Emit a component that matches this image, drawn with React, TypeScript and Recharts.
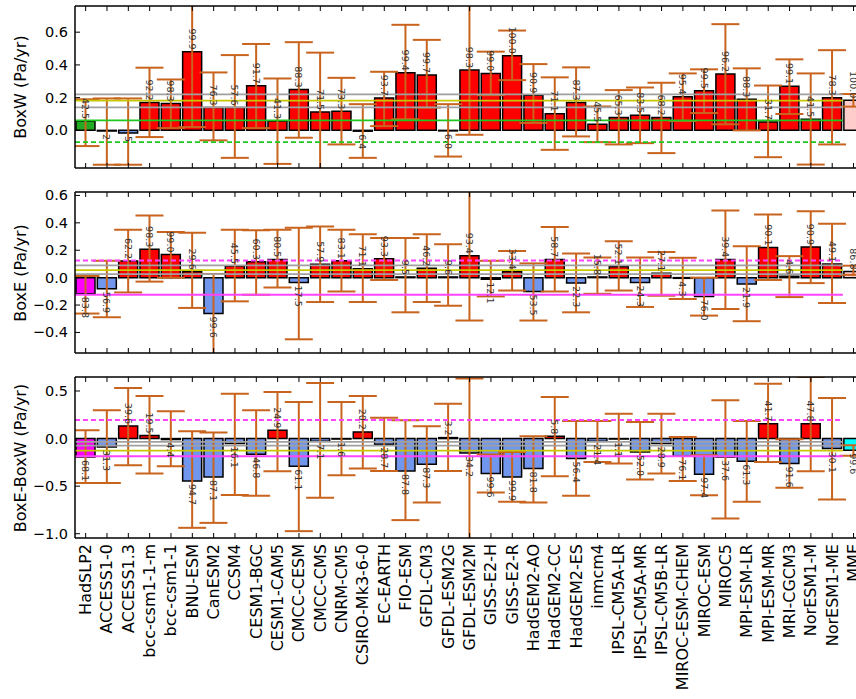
import React from "react";
import { ComposedChart, Bar, Cell, XAxis, YAxis, ErrorBar, ReferenceLine, LabelList } from "recharts";

const models = [
  "HadSLP2", "ACCESS1-0", "ACCESS1.3", "bcc-csm1-1-m", "bcc-csm1-1", "BNU-ESM", "CanESM2", "CCSM4",
  "CESM1-BGC", "CESM1-CAM5", "CMCC-CESM", "CMCC-CMS", "CNRM-CM5", "CSIRO-Mk3-6-0", "EC-EARTH", "FIO-ESM",
  "GFDL-CM3", "GFDL-ESM2G", "GFDL-ESM2M", "GISS-E2-H", "GISS-E2-R", "HadGEM2-AO", "HadGEM2-CC", "HadGEM2-ES",
  "inmcm4", "IPSL-CM5A-LR", "IPSL-CM5A-MR", "IPSL-CM5B-LR", "MIROC-ESM-CHEM", "MIROC-ESM", "MIROC5",
  "MPI-ESM-LR", "MPI-ESM-MR", "MRI-CGCM3", "NorESM1-M", "NorESM1-ME", "MME",
]

// BoxW trends, whisker ends and bar labels
const boxW = [
  0.057, -0.004, -0.016, 0.17, 0.164, 0.481, 0.139, 0.139, 0.272, 0.057, 0.25, 0.112, 0.117, -0.005, 0.198, 0.352,
  0.338, -0.003, 0.369, 0.348, 0.456, 0.215, 0.102, 0.17, 0.037, 0.078, 0.092, 0.078, 0.205, 0.242, 0.344,
  0.19, 0.051, 0.27, 0.068, 0.2, 0.184,
]
const boxWLow = [
  -0.096, -0.21, -0.21, -0.041, 0.014, 0.02, -0.061, -0.168, 0.014, -0.205, -0.045, -0.26, -0.086, -0.168, 0.026, 0.068,
  0.139, -0.16, -0.027, 0.215, 0.307, 0.045, -0.119, -0.037, -0.072, -0.086, -0.078, -0.139, 0.057, 0.106, 0.037,
  0.0, -0.164, 0.1, -0.209, -0.086, 0.145,
]
const boxWHigh = [
  0.19, 0.195, 0.195, 0.383, 0.311, 0.95, 0.354, 0.46, 0.528, 0.317, 0.539, 0.475, 0.321, 0.16, 0.358, 0.645,
  0.553, 0.16, 0.82, 0.481, 0.61, 0.405, 0.324, 0.385, 0.146, 0.246, 0.262, 0.291, 0.348, 0.373, 0.649,
  0.379, 0.274, 0.434, 0.348, 0.49, 0.222,
]
const boxWLabels = [
  "42.5", "2", "5", "92.2", "98.3", "99.9", "76.3", "57.6", "91.7", "41.3", "88.3", "71.5", "73.3", "6.4", "93.7", "99.4",
  "99.7", "6.0", "98.3", "99.0", "100.0", "90.9", "71.1", "87.3", "45.5", "65.3", "83.5", "68.2", "95.4", "99.5", "96.2",
  "88.3", "31.7", "99.1", "41.5", "78.3", "100.0",
]

// BoxE
const boxE = [
  -0.118, -0.082, 0.121, 0.207, 0.169, 0.043, -0.262, 0.085, 0.116, 0.133, -0.036, 0.097, 0.123, 0.065, 0.137, 0.005,
  0.068, 0.005, 0.159, -0.012, 0.043, -0.101, 0.133, -0.04, 0.005, 0.08, -0.036, 0.032, -0.005, -0.137, 0.133,
  -0.046, 0.22, 0.01, 0.224, 0.099, 0.045,
]
const boxELow = [
  -0.262, -0.289, -0.108, -0.029, 0.0, -0.221, -0.6, -0.173, -0.125, -0.072, -0.45, -0.178, -0.101, -0.178, -0.017, -0.253,
  -0.178, -0.205, -0.313, -0.137, -0.094, -0.313, -0.101, -0.253, -0.118, -0.094, -0.214, -0.132, -0.156, -0.277, -0.229,
  -0.318, -0.017, -0.142, -0.04, -0.185, 0.02,
]
const boxEHigh = [
  0.012, 0.123, 0.35, 0.453, 0.333, 0.328, 0.027, 0.35, 0.345, 0.35, 0.364, 0.374, 0.35, 0.316, 0.289, 0.289,
  0.316, 0.244, 0.7, 0.123, 0.195, 0.104, 0.369, 0.176, 0.147, 0.265, 0.147, 0.188, 0.145, 0.0, 0.49,
  0.229, 0.461, 0.157, 0.485, 0.393, 0.087,
]
const boxELabels = [
  "83.8", "56.9", "62.2", "98.3", "99.0", "29.6", "99.6", "45.5", "60.3", "80.5", "17.5", "57.9", "83.1", "71.1", "93.3", "9.5",
  "46.2", "9.6", "93.4", "12.1", "33.4", "53.5", "58.7", "22.3", "15.8", "52.1", "24.3", "27.1", "4.3", "76.0", "39.4",
  "21.9", "90.1", "4.6", "90.9", "49.1", "86.8",
]

// BoxE-BoxW
const diff = [
  -0.193, -0.088, 0.132, 0.031, -0.01, -0.445, -0.403, -0.053, -0.165, 0.087, -0.29, -0.028, -0.005, 0.07, -0.06, -0.34,
  -0.27, 0.01, -0.151, -0.367, -0.403, -0.315, 0.024, -0.21, -0.028, -0.005, -0.14, -0.053, -0.186, -0.375, -0.193,
  -0.238, 0.157, -0.262, 0.157, -0.105, -0.123,
]
const diffLow = [
  -0.466, -0.466, -0.28, -0.367, -0.29, -0.938, -0.886, -0.592, -0.602, -0.343, -0.973, -0.623, -0.385, -0.315, -0.34, -0.857,
  -0.672, -0.34, -1.2, -0.567, -0.665, -0.672, -0.396, -0.602, -0.245, -0.262, -0.43, -0.367, -0.445, -0.595, -0.84,
  -0.665, -0.245, -0.518, -0.343, -0.64, -0.18,
]
const diffHigh = [
  0.087, 0.297, 0.531, 0.447, 0.286, 0.077, 0.063, 0.472, 0.297, 0.489, 0.384, 0.583, 0.384, 0.447, 0.22, 0.192,
  0.129, 0.367, 0.63, -0.167, -0.14, 0.024, 0.437, 0.185, 0.185, 0.262, 0.174, 0.262, 0.017, -0.175, 0.402,
  0.185, 0.577, -0.006, 0.646, 0.426, -0.07,
]
const diffLabels = [
  "68.1", "31.3", "39.6", "19.5", "4.4", "94.7", "87.1", "16.1", "46.8", "24.9", "61.1", "7.1", "1.6", "20.2", "28.7", "87.8",
  "87.3", "3.2", "34.2", "99.6", "99.9", "81.8", "5.8", "56.4", "21.4", "1.1", "52.0", "28.9", "76.1", "97.4", "37.6",
  "61.3", "41.7", "91.6", "47.8", "30.1", "99.6",
]

// reference lines: [value, colour, dashed]
const boxWLines: [number, string, boolean][] = [
  [0.22, "#a0a0a0", false], [0.14, "#a0a0a0", false], [0.182, "#c8c800", false], [0.061, "#1ec81e", false], [-0.072, "#1ec81e", true],
]
const boxELines: [number, string, boolean][] = [
  [0.125, "#ff44ff", true], [0.09, "#a0a0a0", false], [0.025, "#a0a0a0", false], [0.055, "#c8c800", false], [-0.125, "#ff44ff", false],
]
const diffLines: [number, string, boolean][] = [
  [0.195, "#ff44ff", true], [-0.035, "#a0a0a0", false], [-0.075, "#a0a0a0", false], [-0.127, "#c8c800", false], [-0.186, "#ff44ff", false],
]

const FONT = "DejaVu Sans, sans-serif"
const PLOT_LEFT = 75
const CHART_W = 900
const PLOT_RIGHT = PLOT_LEFT + 21.33 * models.length
const RED = "#ff0000"
const BLUE = "#7096ee"
const ERR = "#c8641e"

const fmt = (v: number) => v.toFixed(1).replace("-", "\u2212")

type PanelProps = {
  id: string
  top: number
  height: number
  plotTop: number
  plotBottom: number
  values: number[]
  low: number[]
  high: number[]
  labels: string[]
  domain: [number, number]
  ticks: number[]
  first: string
  last: string
  lines: [number, string, boolean][]
  names: boolean
  yLabel: string
}

function Panel(p: PanelProps) {
  const data = models.map((name, i) => ({
    name,
    v: p.values[i],
    err: [p.values[i] - p.low[i], p.high[i] - p.values[i]],
    label: p.labels[i],
  }))
  const colorOf = (v: number, i: number) => (i === 0 ? p.first : i === models.length - 1 ? p.last : v >= 0 ? RED : BLUE)

  const renderLabel = (props: any) => {
    const vb = props.viewBox || props
    const x = vb.x ?? props.x
    const y = vb.y ?? props.y
    const w = vb.width ?? props.width
    const h = vb.height ?? props.height
    const v = p.values[props.index] ?? (h < 0 ? -1 : 1)
    const cx = x + w / 2
    const t = Math.min(y, y + h)
    const b = Math.max(y, y + h)
    const ay = v >= 0 ? t - 2 : b + 3
    return (
      <text x={cx} y={ay} transform={`rotate(90 ${cx} ${ay})`} textAnchor={v >= 0 ? "end" : "start"}
        dominantBaseline="central" fontSize={9.5} fontFamily={FONT} fill="#333">
        {props.value}
      </text>
    )
  }

  const xTick = (t: any) => (
    <g>
      <line x1={t.x} x2={t.x} y1={p.plotBottom} y2={p.plotBottom - 5} stroke="#000" />
      <line x1={t.x} x2={t.x} y1={p.plotTop} y2={p.plotTop + 5} stroke="#000" />
      {p.names && (
        <text x={t.x} y={p.plotBottom + 6} transform={`rotate(-90 ${t.x} ${p.plotBottom + 6})`} textAnchor="end"
          dominantBaseline="central" fontSize={16} fontFamily={FONT} fill="#000">
          {t.payload.value}
        </text>
      )}
    </g>
  )

  const yTick = (t: any) => (
    <g>
      <line x1={PLOT_LEFT} x2={PLOT_LEFT + 5} y1={t.y} y2={t.y} stroke="#000" />
      <text x={PLOT_LEFT - 7} y={t.y} textAnchor="end" dominantBaseline="central" fontSize={14.5} fontFamily={FONT} fill="#000">
        {fmt(t.payload.value)}
      </text>
    </g>
  )

  const clipId = `clip-${p.id}`
  return (
    <div className={p.id} style={{ position: "absolute", left: 0, top: p.top }}>
      <svg width={0} height={0} style={{ position: "absolute" }}>
        <defs>
          <clipPath id={clipId} clipPathUnits="userSpaceOnUse">
            <rect x={PLOT_LEFT} y={p.plotTop} width={PLOT_RIGHT - PLOT_LEFT} height={p.plotBottom - p.plotTop} />
          </clipPath>
        </defs>
      </svg>
      <style>{`.${p.id} .recharts-errorBars { clip-path: url(#${clipId}); }`}</style>
      <ComposedChart width={CHART_W} height={p.height} data={data} barCategoryGap={1}
        margin={{ top: p.plotTop, right: CHART_W - PLOT_RIGHT, bottom: 0, left: 0 }}>
        <XAxis dataKey="name" interval={0} height={p.height - p.plotBottom} tickLine={false}
          axisLine={{ stroke: "#000", strokeWidth: 1.5 }} tick={xTick} />
        <YAxis type="number" domain={p.domain} ticks={p.ticks} allowDataOverflow width={PLOT_LEFT} tickLine={false}
          axisLine={{ stroke: "#000", strokeWidth: 1.5 }} tick={yTick} />
        <Bar dataKey="v" isAnimationActive={false} stroke="#000" strokeWidth={1.5}>
          {data.map((d, i) => (
            <Cell key={d.name} fill={colorOf(d.v, i)} />
          ))}
          <ErrorBar dataKey="err" width={14} stroke={ERR} strokeWidth={2} isAnimationActive={false} />
          <LabelList dataKey="label" content={renderLabel} />
        </Bar>
        {p.lines.map(([y, c, dashed], i) => (
          <ReferenceLine key={i} y={y} stroke={c} strokeWidth={1.8} strokeDasharray={dashed ? "5 3" : undefined}
            shape={(s: any) => (
              <line x1={s.x1} y1={s.y1} x2={s.x1 + ((s.x2 - s.x1) * 36) / 37} y2={s.y2} stroke={c} strokeWidth={1.8}
                strokeDasharray={dashed ? "5 3" : undefined} />
            )} />
        ))}
        <ReferenceLine y={p.domain[1]} stroke="#000" strokeWidth={1.5} />
      </ComposedChart>
      <div style={{
        position: "absolute", left: 20, top: (p.plotTop + p.plotBottom) / 2, transform: "translate(-50%, -50%) rotate(-90deg)",
        whiteSpace: "nowrap", fontFamily: FONT, fontSize: 16,
      }}>
        {p.yLabel}
      </div>
    </div>
  )
}

export default function App() {
  return (
    <div style={{ position: "fixed", left: 0, top: 0, width: 856, height: 699, overflow: "hidden", background: "#fff" }}>
      <Panel id="pw" top={0} height={172} plotTop={6} plotBottom={168} values={boxW} low={boxWLow} high={boxWHigh}
        labels={boxWLabels} domain={[-0.23, 0.76]} ticks={[-0.2, 0, 0.2, 0.4, 0.6]} first="#22aa22" last="#ffcccc"
        lines={boxWLines} names={false} yLabel="BoxW (Pa/yr)" />
      <Panel id="pe" top={186} height={172} plotTop={6} plotBottom={167} values={boxE} low={boxELow} high={boxEHigh}
        labels={boxELabels} domain={[-0.55, 0.625]} ticks={[-0.4, -0.2, 0, 0.2, 0.4, 0.6]} first="#ff00ff" last="#ffcccc"
        lines={boxELines} names={false} yLabel="BoxE (Pa/yr)" />
      <Panel id="pd" top={370} height={329} plotTop={7} plotBottom={168} values={diff} low={diffLow} high={diffHigh}
        labels={diffLabels} domain={[-1.045, 0.647]} ticks={[-1, -0.5, 0, 0.5]} first="#ff00ff" last="#00ffff"
        lines={diffLines} names={true} yLabel="BoxE-BoxW (Pa/yr)" />
    </div>
  )
}
